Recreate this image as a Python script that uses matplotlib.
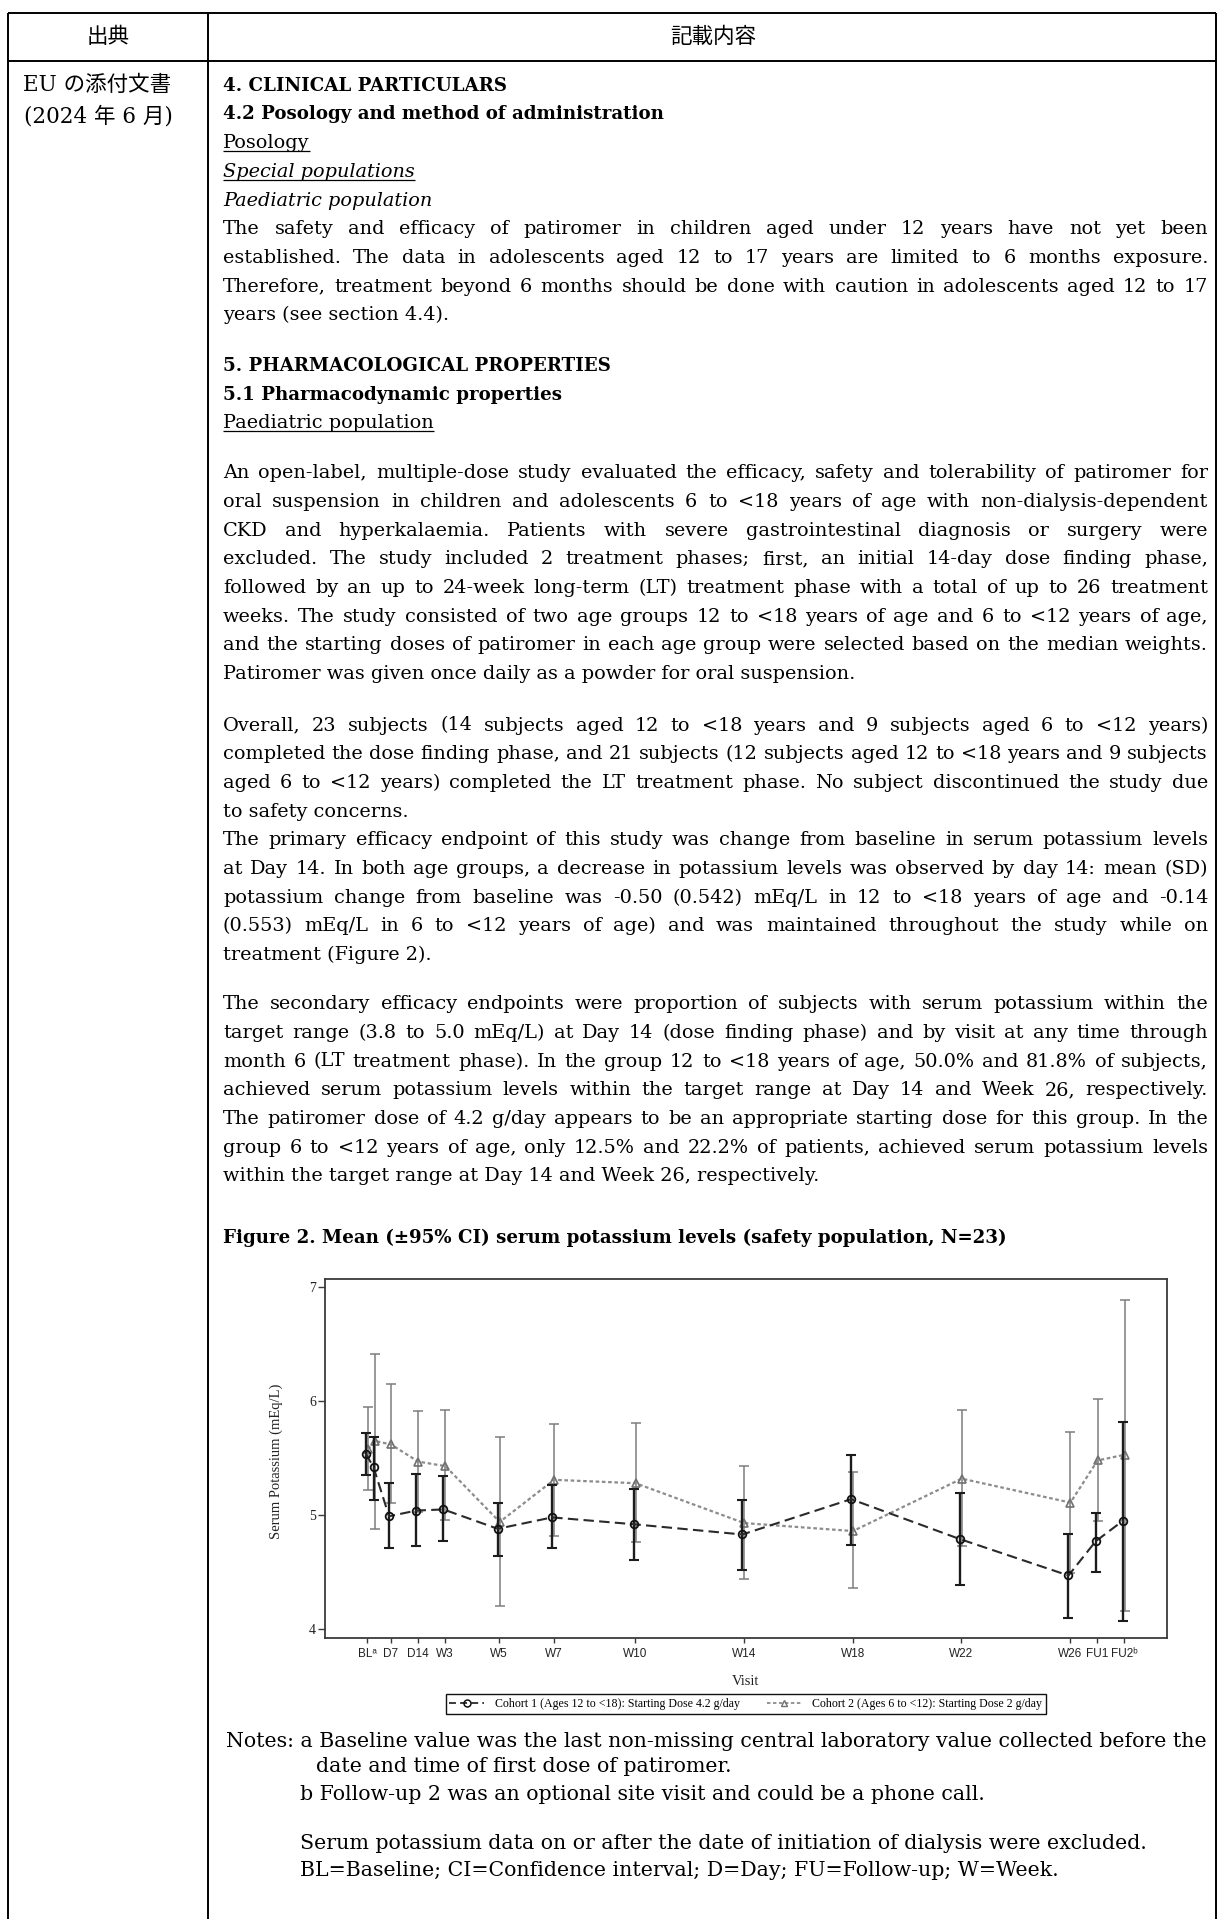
import matplotlib
matplotlib.use("Agg")
import matplotlib.pyplot as plt
from matplotlib.lines import Line2D

W, H = 1224, 1919
plt.rcParams["lines.scale_dashes"] = False

# ---------------- chart data ----------------
visit_days = [1, 3, 7, 14, 21, 35, 49, 70, 98, 126, 154, 182, 189, 196]
tick_days = [1, 7, 14, 21, 35, 49, 70, 98, 126, 154, 182, 189, 196]
tick_labels = ["BLᵃ", "D7", "D14", "W3", "W5", "W7", "W10", "W14", "W18",
               "W22", "W26", "FU1", "FU2ᵇ"]
y_ticks = [4, 5, 6, 7]

c1_mean = [5.54, 5.42, 4.99, 5.04, 5.05, 4.88, 4.98, 4.92, 4.83, 5.14, 4.79, 4.47, 4.77, 4.95]
c1_low = [5.35, 5.13, 4.71, 4.73, 4.77, 4.64, 4.71, 4.61, 4.52, 4.74, 4.39, 4.10, 4.50, 4.07]
c1_high = [5.72, 5.69, 5.28, 5.36, 5.34, 5.11, 5.26, 5.23, 5.13, 5.53, 5.19, 4.83, 5.02, 5.82]

c2_mean = [5.58, 5.65, 5.62, 5.47, 5.43, 4.94, 5.31, 5.28, 4.93, 4.86, 5.32, 5.11, 5.48, 5.53]
c2_low = [5.22, 4.88, 5.11, 5.03, 4.96, 4.20, 4.82, 4.76, 4.44, 4.36, 4.73, 4.49, 4.95, 4.16]
c2_high = [5.95, 6.41, 6.15, 5.91, 5.92, 5.69, 5.80, 5.81, 5.43, 5.38, 5.92, 5.73, 6.02, 6.89]

c1_label = "Cohort 1 (Ages 12 to <18): Starting Dose 4.2 g/day"
c2_label = "Cohort 2 (Ages 6 to <12): Starting Dose 2 g/day"
y_label = "Serum Potassium (mEq/L)"
x_label = "Visit"

# ---------------- document text ----------------
header_left = "出典"
header_right = "記載内容"
source_lines = ["EU の添付文書", "(2024 年 6 月)"]

# (kind, text): B bold, U underline, IU italic+underline, I italic, J justified, L left
block1 = [
    ("B", "4. CLINICAL PARTICULARS"),
    ("B", "4.2 Posology and method of administration"),
    ("U", "Posology"),
    ("IU", "Special populations"),
    ("I", "Paediatric population"),
    ("J", "The safety and efficacy of patiromer in children aged under 12 years have not yet been"),
    ("J", "established. The data in adolescents aged 12 to 17 years are limited to 6 months exposure."),
    ("J", "Therefore, treatment beyond 6 months should be done with caution in adolescents aged 12 to 17"),
    ("L", "years (see section 4.4)."),
]
block2 = [
    ("B", "5. PHARMACOLOGICAL PROPERTIES"),
    ("B", "5.1 Pharmacodynamic properties"),
    ("U", "Paediatric population"),
]
block3 = [
    ("J", "An open-label, multiple-dose study evaluated the efficacy, safety and tolerability of patiromer for"),
    ("J", "oral suspension in children and adolescents 6 to <18 years of age with non-dialysis-dependent"),
    ("J", "CKD and hyperkalaemia. Patients with severe gastrointestinal diagnosis or surgery were"),
    ("J", "excluded. The study included 2 treatment phases; first, an initial 14-day dose finding phase,"),
    ("J", "followed by an up to 24-week long-term (LT) treatment phase with a total of up to 26 treatment"),
    ("J", "weeks. The study consisted of two age groups 12 to <18 years of age and 6 to <12 years of age,"),
    ("J", "and the starting doses of patiromer in each age group were selected based on the median weights."),
    ("L", "Patiromer was given once daily as a powder for oral suspension."),
]
block4 = [
    ("J", "Overall, 23 subjects (14 subjects aged 12 to <18 years and 9 subjects aged 6 to <12 years)"),
    ("J", "completed the dose finding phase, and 21 subjects (12 subjects aged 12 to <18 years and 9 subjects"),
    ("J", "aged 6 to <12 years) completed the LT treatment phase. No subject discontinued the study due"),
    ("L", "to safety concerns."),
    ("J", "The primary efficacy endpoint of this study was change from baseline in serum potassium levels"),
    ("J", "at Day 14. In both age groups, a decrease in potassium levels was observed by day 14: mean (SD)"),
    ("J", "potassium change from baseline was -0.50 (0.542) mEq/L in 12 to <18 years of age and -0.14"),
    ("J", "(0.553) mEq/L in 6 to <12 years of age) and was maintained throughout the study while on"),
    ("L", "treatment (Figure 2)."),
]
block5 = [
    ("J", "The secondary efficacy endpoints were proportion of subjects with serum potassium within the"),
    ("J", "target range (3.8 to 5.0 mEq/L) at Day 14 (dose finding phase) and by visit at any time through"),
    ("J", "month 6 (LT treatment phase). In the group 12 to <18 years of age, 50.0% and 81.8% of subjects,"),
    ("J", "achieved serum potassium levels within the target range at Day 14 and Week 26, respectively."),
    ("J", "The patiromer dose of 4.2 g/day appears to be an appropriate starting dose for this group. In the"),
    ("J", "group 6 to <12 years of age, only 12.5% and 22.2% of patients, achieved serum potassium levels"),
    ("L", "within the target range at Day 14 and Week 26, respectively."),
]
figure_title = "Figure 2. Mean (±95% CI) serum potassium levels (safety population, N=23)"
notes_first = "Notes: a Baseline value was the last non-missing central laboratory value collected before the"
notes_date = "date and time of first dose of patiromer."
notes_b = "b Follow-up 2 was an optional site visit and could be a phone call."
notes_serum = "Serum potassium data on or after the date of initiation of dialysis were excluded."
notes_abbr = "BL=Baseline; CI=Confidence interval; D=Day; FU=Follow-up; W=Week."

# ---------------- layout helpers ----------------
fig = plt.figure(figsize=(W / 100, H / 100), dpi=100)
fig.patch.set_facecolor("white")
R = fig.canvas.get_renderer()


def fx(x):
    return x / W


def fy(y):
    return 1 - y / H


def width(s, **kw):
    t = fig.text(0, 0, s, **kw)
    w = t.get_window_extent(R).width
    t.remove()
    return w


def hline(x0, x1, y, lw=1.2, color="black"):
    fig.add_artist(Line2D([fx(x0), fx(x1)], [fy(y), fy(y)], color=color, lw=lw,
                          transform=fig.transFigure, solid_capstyle="butt"))


def vline(x, y0, y1, lw=1.2, color="black"):
    fig.add_artist(Line2D([fx(x), fx(x)], [fy(y0), fy(y1)], color=color, lw=lw,
                          transform=fig.transFigure, solid_capstyle="butt"))


# table frame
L_X, DIV_X, R_X = 8, 208, 1216
TOP_Y, HEAD_Y = 13, 61
hline(L_X, R_X, TOP_Y, lw=1.4)
hline(L_X, R_X, HEAD_Y, lw=1.4)
vline(L_X, TOP_Y, H + 5, lw=1.4)
vline(DIV_X, TOP_Y, H + 5, lw=1.4)
vline(R_X, TOP_Y, H + 5, lw=1.4)

CJK = ["DejaVu Serif", "Noto Sans CJK JP"]
fig.text(fx((L_X + DIV_X) / 2), fy(37), header_left, family=["Noto Sans CJK JP"],
         size=15.5, ha="center", va="center")
fig.text(fx(713), fy(37), header_right, family=["Noto Sans CJK JP"],
         size=15.5, ha="center", va="center")
fig.text(fx(23), fy(85), source_lines[0], family=CJK, size=15.5, ha="left", va="center")
fig.text(fx(24), fy(116), source_lines[1], family=CJK, size=15.5, ha="left", va="center")

# body text
X0, X1 = 223, 1208
BODY = ["DejaVu Serif"]
all_j = [s for blk in (block1, block3, block4, block5) for k, s in blk if k == "J"]
ref_w = max(width(s, size=10, family=BODY) for s in all_j)
body_size = 10 * (X1 - X0) / ref_w * 0.998
head_size = 10 * 444 / width(block1[1][1], size=10, family=BODY, weight="bold")


def draw_line(y, kind, s, size=None):
    size = size or body_size
    em = size * 100 / 72
    base = y + 0.30 * em
    weight = "bold" if kind == "B" else "normal"
    style = "italic" if kind in ("I", "IU") else "normal"
    if kind == "B":
        size = head_size
    if kind == "J":
        words = s.split(" ")
        ts = [fig.text(0, fy(base), w_, size=size, family=BODY, va="baseline")
              for w_ in words]
        ws = [t.get_window_extent(R).width for t in ts]
        gap = (X1 - X0 - sum(ws)) / (len(ws) - 1)
        x = X0
        for t, w_ in zip(ts, ws):
            t.set_x(fx(x))
            x += w_ + gap
    else:
        t = fig.text(fx(X0), fy(base), s, size=size, family=BODY, weight=weight,
                     style=style, va="baseline")
        if kind in ("U", "IU"):
            w_ = t.get_window_extent(R).width
            hline(X0, X0 + w_, base + 0.14 * em, lw=0.9)


LS = 28.7
for i, (k, s) in enumerate(block1):
    draw_line(85 + i * LS, k, s)
for i, (k, s) in enumerate(block2):
    draw_line(365.3 + i * LS, k, s)
for i, (k, s) in enumerate(block3):
    draw_line(472.5 + i * LS, k, s)
for i, (k, s) in enumerate(block4):
    draw_line(724.8 + i * LS, k, s)
for i, (k, s) in enumerate(block5):
    draw_line(1003.4 + i * LS, k, s)
draw_line(1237.3, "B", figure_title)

# notes
NOTES = ["DejaVu Serif"]
NX0 = 226
notes_size = 10 * (1206 - NX0) / width(notes_first, size=10, family=NOTES)
nem = notes_size * 100 / 72
a_off = width("Notes: a", size=notes_size, family=NOTES) - width("a", size=notes_size, family=NOTES)
base_off = width("Notes: a Baseline", size=notes_size, family=NOTES) - width("Baseline", size=notes_size, family=NOTES)
for x, y, s in [(NX0, 1741, notes_first),
                (NX0 + (a_off + base_off) / 2 + 6, 1766, notes_date),
                (NX0 + a_off, 1794, notes_b),
                (NX0 + a_off, 1843, notes_serum),
                (NX0 + a_off, 1870, notes_abbr)]:
    fig.text(fx(x), fy(y + 0.3 * nem), s, size=notes_size, family=NOTES, va="baseline")

# ---------------- chart ----------------
AX_L, AX_R, AX_T, AX_B = 325, 1166.7, 1279.3, 1637.7
ax = fig.add_axes([fx(AX_L), fy(AX_B), (AX_R - AX_L) / W, (AX_B - AX_T) / H])
ax.set_xlim(-9.9, 206.9)
ax.set_ylim(3.924, 7.07)

x1 = [d - 0.4 for d in visit_days]
x2 = [d + 0.1 for d in visit_days]
yerr1 = [[m - l for m, l in zip(c1_mean, c1_low)], [h - m for m, h in zip(c1_mean, c1_high)]]
yerr2 = [[m - l for m, l in zip(c2_mean, c2_low)], [h - m for m, h in zip(c2_mean, c2_high)]]

C1_COL = "#1c1c1c"
C2_COL = "#7d7d7d"
C1_DASH = (0, (7.5, 3.8))
C2_DASH = (0, (2.6, 1.9))

ax.errorbar(x2, c2_mean, yerr=yerr2, fmt="none", ecolor=C2_COL, elinewidth=1.1,
            capsize=3.9, capthick=1.1, zorder=2)
ax.plot(x2, c2_mean, color="#8c8c8c", lw=1.6, ls=C2_DASH, marker="^", ms=5.5,
        mfc="none", mec="#707070", mew=1.2, zorder=3)
ax.errorbar(x1, c1_mean, yerr=yerr1, fmt="none", ecolor=C1_COL, elinewidth=1.7,
            capsize=3.6, capthick=1.5, zorder=4)
ax.plot(x1, c1_mean, color="#2a2a2a", lw=1.5, ls=C1_DASH, marker="o", ms=5.5,
        mfc="none", mec="#111111", mew=1.3, zorder=5)

for sp in ax.spines.values():
    sp.set_color("#3a3a3a")
    sp.set_linewidth(1.3)

NARROW = ["Liberation Sans Narrow", "Liberation Sans", "DejaVu Sans"]
ax.set_xticks(tick_days)
ax.set_xticklabels(tick_labels, family=NARROW, size=8.5)
ax.set_yticks(y_ticks)
ax.set_yticklabels([str(v) for v in y_ticks], family="Liberation Serif", size=10)
ax.tick_params(axis="y", length=5, width=1, pad=1.5, color="#3a3a3a", labelcolor="#222222")
ax.tick_params(axis="x", length=3.8, width=1, pad=3.5, color="#3a3a3a", labelcolor="#222222")

ax.set_ylabel(y_label, family="Liberation Serif", size=10.5, color="#222222")
ax.yaxis.set_label_coords((283 - AX_L) / (AX_R - AX_L), (AX_B - 1461) / (AX_B - AX_T))
ax.set_xlabel(x_label, family="Liberation Serif", size=10.5, color="#222222")
ax.xaxis.set_label_coords(0.5, -(1675 - AX_B) / (AX_B - AX_T))

h1 = Line2D([], [], color="#2a2a2a", lw=1.3, ls=(0, (5, 3)), marker="o", ms=5,
            mfc="none", mec="#111111", mew=1.1)
h2 = Line2D([], [], color="#8c8c8c", lw=1.3, ls=(0, (2.5, 1.8)), marker="^", ms=5,
            mfc="none", mec="#707070", mew=1.0)
leg = ax.legend([h1, h2], [c1_label, c2_label], loc="center",
                bbox_to_anchor=(fx((AX_L + AX_R) / 2), fy(1704)), bbox_transform=fig.transFigure,
                ncol=2, frameon=True, fancybox=False, framealpha=1, edgecolor="#111111",
                borderpad=0.3, handlelength=2.9, handletextpad=0.9, columnspacing=2.3,
                prop={"family": "Liberation Serif", "size": 8.6})
leg.get_frame().set_linewidth(1.0)

fig.savefig("out.png", dpi=100, facecolor="white")
